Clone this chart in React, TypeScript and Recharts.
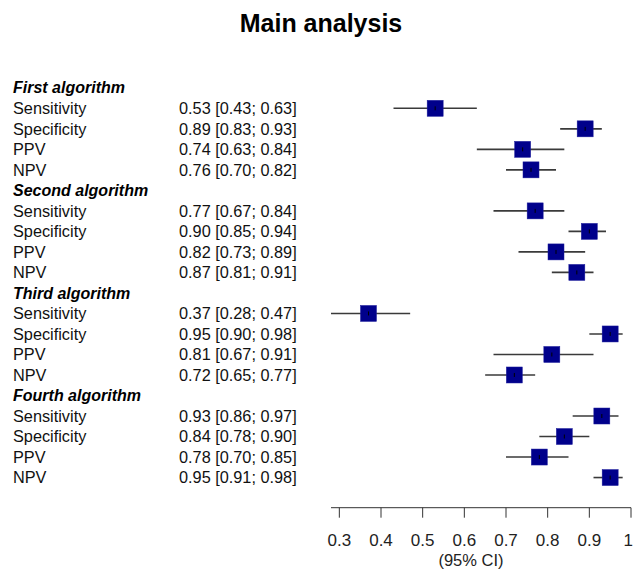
import { ScatterChart, Scatter, XAxis, YAxis, ErrorBar } from 'recharts';

const algorithms = ['First algorithm', 'Second algorithm', 'Third algorithm', 'Fourth algorithm'];
const measures = ['Sensitivity', 'Specificity', 'PPV', 'NPV'];

const estimates = [
  [0.53, 0.89, 0.74, 0.76],
  [0.77, 0.9, 0.82, 0.87],
  [0.37, 0.95, 0.81, 0.72],
  [0.93, 0.84, 0.78, 0.95],
];
const lower = [
  [0.43, 0.83, 0.63, 0.7],
  [0.67, 0.85, 0.73, 0.81],
  [0.28, 0.9, 0.67, 0.65],
  [0.86, 0.78, 0.7, 0.91],
];
const upper = [
  [0.63, 0.93, 0.84, 0.82],
  [0.84, 0.94, 0.89, 0.91],
  [0.47, 0.98, 0.91, 0.77],
  [0.97, 0.9, 0.85, 0.98],
];

const xTicks = [0.3, 0.4, 0.5, 0.6, 0.7, 0.8, 0.9, 1];

type Row = { row: number; label: string; header: boolean; est?: number; lo?: number; hi?: number; err?: number[] };

const rows: Row[] = [];
algorithms.forEach((alg, g) => {
  rows.push({ row: rows.length, label: alg, header: true });
  measures.forEach((m, k) => {
    const est = estimates[g][k];
    const lo = lower[g][k];
    const hi = upper[g][k];
    rows.push({ row: rows.length, label: m, header: false, est, lo, hi, err: [est - lo, hi - est] });
  });
});
const points = rows.filter((r) => !r.header);

const fmt = (v: number) => v.toFixed(2);

const RowTick = (props: any) => {
  const { y, payload } = props;
  const r = rows[payload.value];
  if (!r) return null;
  if (r.header) {
    return (
      <text x={13} y={y} dy="0.35em" fontSize={16} fontWeight="bold" fontStyle="italic" fill="#000">
        {r.label}
      </text>
    );
  }
  return (
    <g>
      <text x={13} y={y} dy="0.35em" fontSize={16.3} fill="#111">
        {r.label}
      </text>
      <text x={179} y={y} dy="0.35em" fontSize={16.3} fill="#111">
        {`${fmt(r.est!)} [${fmt(r.lo!)}; ${fmt(r.hi!)}]`}
      </text>
    </g>
  );
};

// last label sits on the right edge, so anchor it to the end
const XTick = (props: any) => {
  const { x, y, payload } = props;
  const last = payload.value === xTicks[xTicks.length - 1];
  return (
    <text
      x={last ? x + 2 : x}
      y={y}
      dy="0.71em"
      textAnchor={last ? 'end' : 'middle'}
      fontSize={17}
      fill="#222"
    >
      {String(payload.value)}
    </text>
  );
};

const Square = (props: any) => {
  const { cx, cy } = props;
  const s = 16;
  return (
    <g>
      <rect x={cx - s / 2} y={cy - s / 2} width={s} height={s} fill="#00008B" stroke="#1c1c9c" strokeWidth={0.5} />
      <line x1={cx} x2={cx} y1={cy - 2} y2={cy + 2} stroke="#000" strokeWidth={1} />
    </g>
  );
};

export default function App() {
  return (
    <div
      style={{
        position: 'absolute',
        left: 0,
        top: 0,
        width: 634,
        height: 569,
        background: '#fff',
        fontFamily: '"Liberation Sans", Arial, sans-serif',
      }}
    >
      <div
        style={{
          position: 'absolute',
          left: 4,
          top: 11,
          width: 634,
          textAlign: 'center',
          fontSize: 25,
          lineHeight: '25px',
          fontWeight: 'bold',
          color: '#000',
        }}
      >
        Main analysis
      </div>
      <ScatterChart width={634} height={569} margin={{ top: 67.3, right: 3, bottom: 0, left: 0 }}>
        <XAxis
          type="number"
          dataKey="est"
          domain={[0.3, 1]}
          ticks={xTicks}
          interval={0}
          height={61.3}
          tickSize={10}
          tickMargin={16}
          axisLine={{ stroke: '#333' }}
          tickLine={{ stroke: '#333' }}
          tick={<XTick />}
          label={{ value: '(95% CI)', position: 'insideBottom', offset: 3, dx: -10, fill: '#222', fontSize: 16.5 }}
        />
        <YAxis
          type="number"
          dataKey="row"
          domain={[-1, 20.47]}
          reversed
          ticks={rows.map((r) => r.row)}
          interval={0}
          width={331}
          axisLine={false}
          tickLine={false}
          tick={<RowTick />}
        />
        <Scatter data={points} shape={<Square />} isAnimationActive={false}>
          <ErrorBar dataKey="err" direction="x" width={0} stroke="#3a3a3a" strokeWidth={1.6} isAnimationActive={false} />
        </Scatter>
      </ScatterChart>
    </div>
  );
}
